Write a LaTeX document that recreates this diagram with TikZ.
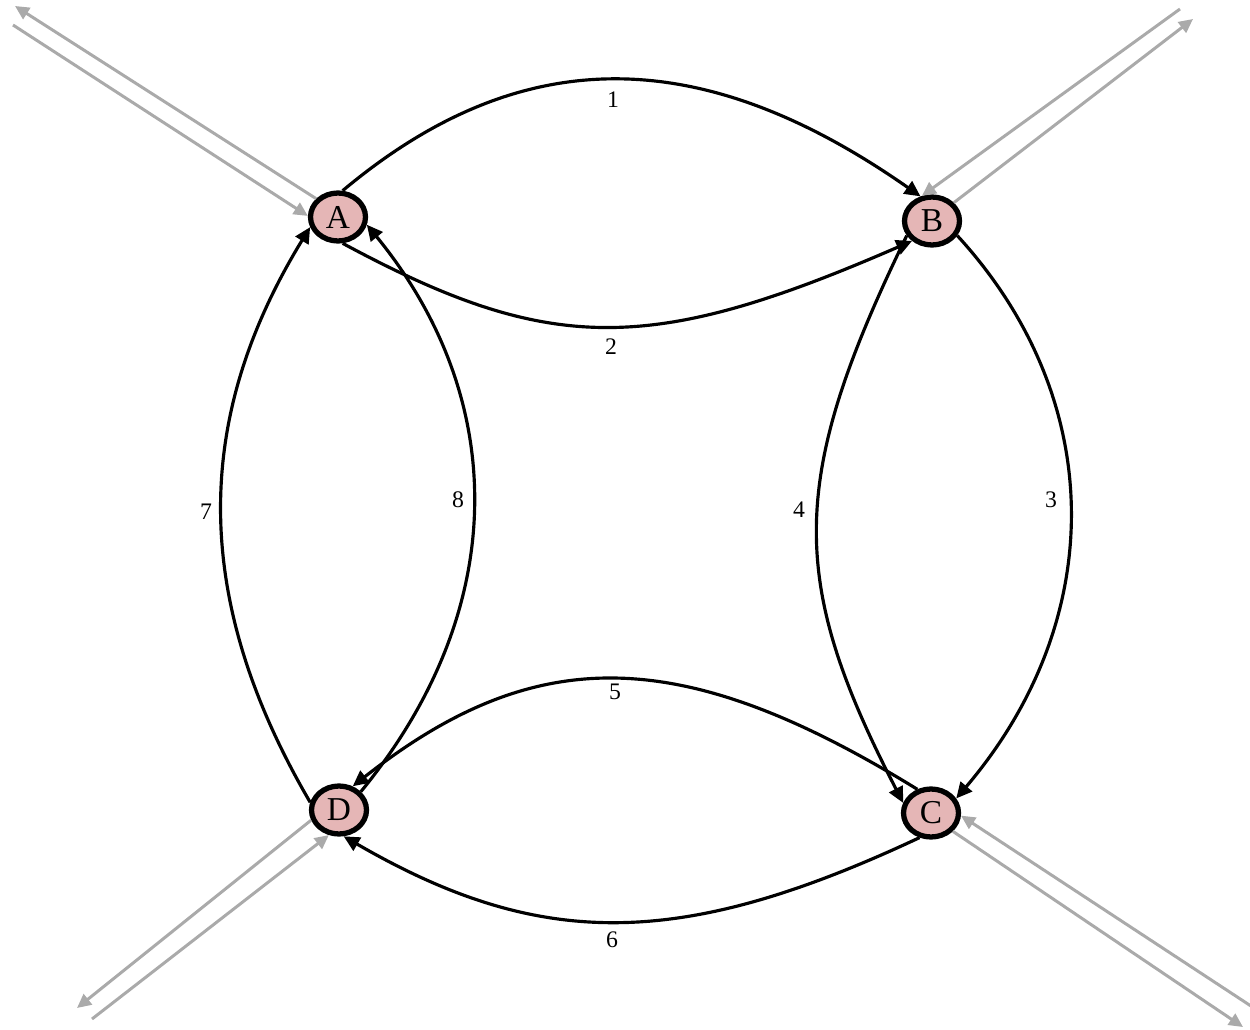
\documentclass[tikz,border=0pt]{standalone}
\usepackage{fontspec}
\setmainfont{Liberation Serif}
\usetikzlibrary{arrows.meta,shapes.geometric}
\definecolor{nodepink}{RGB}{229,182,182}
\definecolor{linkgray}{RGB}{170,170,170}
\tikzset{
  vert/.style={ellipse,draw=black,line width=3pt,fill=nodepink,inner sep=0pt,
    minimum width=1.1cm,minimum height=0.96cm,font=\fontsize{19}{20}\selectfont},
  edge/.style={draw=black,line width=1.8pt,-{Triangle[length=9pt,width=8.5pt]}},
  ext/.style={draw=linkgray,line width=1.7pt,-{Triangle[length=8pt,width=7.5pt]}},
  lbl/.style={font=\fontsize{13.5}{14}\selectfont,inner sep=1pt}
}
\begin{document}
\begin{tikzpicture}[x=0.02cm,y=-0.02cm]
\useasboundingbox (0,0) rectangle (1250,1030);
\node[vert] (A) at (338,217) {A};
\node[vert] (B) at (932,221) {B};
\node[vert] (C) at (931,813) {C};
\node[vert] (D) at (339,810) {D};

% black edges
\draw[edge] (A.80) .. controls (520,42) and (700,42) .. (B.115);
\draw[edge] (A.280) .. controls (550,355) and (650,355) .. (B.225);
\draw[edge] (B.-30) .. controls (1108,400) and (1108,620) .. (C.30);
\draw[edge] (B.210) .. controls (788,480) and (788,580) .. (C.160);
\draw[edge] (C.120) .. controls (680,643) and (535,643) .. (D.60);
\draw[edge] (C.245) .. controls (680,950) and (540,950) .. (D.280);
\draw[edge] (D.165) .. controls (192,600) and (192,420) .. (A.200);
\draw[edge] (D.40) .. controls (510,610) and (510,400) .. (A.-15);

% labels
\node[lbl] (l1) at (613,100) {1};
\node[lbl] (l2) at (611,347) {2};
\node[lbl] (l3) at (1051,500) {3};
\node[lbl] (l4) at (799,510) {4};
\node[lbl] (l5) at (615,692) {5};
\node[lbl] (l6) at (612,940) {6};
\node[lbl] (l7) at (206,512) {7};
\node[lbl] (l8) at (458,500) {8};

% external gray links
\coordinate (a1) at (15,6);
\coordinate (a2) at (13,25);
\coordinate (b1) at (1180,9);
\coordinate (b2) at (1193,19);
\coordinate (d1) at (77,1008);
\coordinate (d2) at (92,1019);
\coordinate (c1) at (1254,1008);
\coordinate (c2) at (1243,1027);
\draw[ext] (A.140) -- (a1);
\draw[ext] (a2) -- (A.178);
\draw[ext] (b1) -- (B.112);
\draw[ext] (B.40) -- (b2);
\draw[ext] (D.200) -- (d1);
\draw[ext] (d2) -- (D.248);
\draw[ext] (c1) -- (C.-5);
\draw[ext] (C.-40) -- (c2);
\end{tikzpicture}
\end{document}
